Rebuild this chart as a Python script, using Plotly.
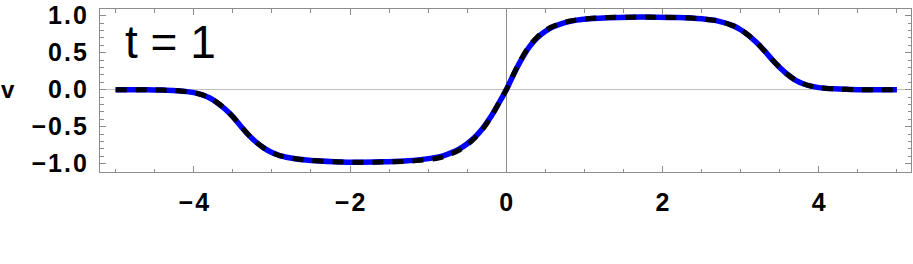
import plotly.graph_objects as go

# Data
x_vals = [-5.0, -4.6, -4.4, -4.2, -4.0, -3.9, -3.8, -3.7, -3.6, -3.5, -3.4, -3.3, -3.2, -3.1,
          -3.0, -2.9, -2.7, -2.5, -2.2, -1.9, -1.6, -1.3, -1.1, -0.9, -0.8, -0.7, -0.6, -0.5,
          -0.4, -0.3, -0.2, -0.1, 0.0, 0.1, 0.2, 0.3, 0.4, 0.5, 0.6, 0.7, 0.8, 0.9, 1.1, 1.3,
          1.6, 1.9, 2.2, 2.5, 2.7, 2.9, 3.0, 3.1, 3.2, 3.3, 3.4, 3.5, 3.6, 3.7, 3.8, 3.9, 4.0,
          4.2, 4.4, 4.6, 5.0]
v_blue = [0.0, 0.0, -0.005, -0.014, -0.04, -0.068, -0.11, -0.175, -0.26, -0.365, -0.49, -0.61,
          -0.71, -0.79, -0.85, -0.89, -0.933, -0.956, -0.972, -0.98, -0.975, -0.962, -0.945,
          -0.915, -0.89, -0.85, -0.80, -0.73, -0.64, -0.52, -0.37, -0.19, 0.0, 0.22, 0.42,
          0.585, 0.705, 0.79, 0.85, 0.89, 0.92, 0.94, 0.962, 0.973, 0.98, 0.98, 0.975, 0.957,
          0.93, 0.865, 0.81, 0.735, 0.64, 0.53, 0.41, 0.30, 0.205, 0.13, 0.08, 0.048, 0.028,
          0.011, 0.004, 0.0, 0.0]
v_black = [0.0, 0.0, -0.005, -0.014, -0.04, -0.068, -0.11, -0.175, -0.26, -0.365, -0.49, -0.61,
           -0.71, -0.79, -0.85, -0.89, -0.933, -0.956, -0.972, -0.98, -0.978, -0.968, -0.955,
           -0.93, -0.905, -0.865, -0.815, -0.745, -0.65, -0.53, -0.375, -0.19, 0.0, 0.225, 0.43,
           0.595, 0.715, 0.80, 0.857, 0.895, 0.925, 0.943, 0.964, 0.974, 0.98, 0.98, 0.975, 0.957,
           0.93, 0.865, 0.81, 0.735, 0.64, 0.53, 0.41, 0.30, 0.205, 0.13, 0.08, 0.048, 0.028,
           0.011, 0.004, 0.0, 0.0]
x_ticks = [-4, -2, 0, 2, 4]
x_tick_text = ["\u22124", "\u22122", "0", "2", "4"]
y_ticks = [-1.0, -0.5, 0.0, 0.5, 1.0]
y_tick_text = ["\u22121.0", "\u22120.5", "0.0", "0.5", "1.0"]
panel_label = "t = 1"
y_label = "v"

HAIR = "\u200a"


def spaced(s):
    return HAIR.join(list(s))


fig = go.Figure()
fig.add_trace(go.Scatter(x=x_vals, y=v_blue, mode="lines", line_shape="spline",
                         line=dict(color="#0000ff", width=5.5, smoothing=1.0), showlegend=False))
fig.add_trace(go.Scatter(x=x_vals, y=v_black, mode="lines", line_shape="spline",
                         line=dict(color="black", width=5, dash="11px,9px", smoothing=1.0),
                         showlegend=False))

tickfont = dict(family="Liberation Sans, Arial, sans-serif", size=25, color="black", weight="bold")
frame = "#8c8c8c"
fig.update_layout(
    width=913, height=264,
    margin=dict(l=100, r=2, t=9, b=92, autoexpand=False),
    paper_bgcolor="white", plot_bgcolor="white",
    xaxis=dict(range=[-5.2, 5.18], tickvals=x_ticks, ticktext=[spaced(t) for t in x_tick_text],
               ticks="inside", ticklen=6,
               tickcolor=frame, tickwidth=1, showline=True, linecolor=frame, linewidth=1,
               mirror="ticks", showgrid=False, zeroline=True, zerolinecolor="#909090",
               zerolinewidth=1, tickfont=tickfont, ticklabelstandoff=8,
               minor=dict(dtick=0.5, ticks="inside", ticklen=3.5, tickcolor=frame, showgrid=False)),
    yaxis=dict(range=[-1.112, 1.09], tickvals=y_ticks, ticktext=[spaced(t) for t in y_tick_text],
               ticks="inside", ticklen=6, tickcolor=frame, tickwidth=1, showline=True,
               linecolor=frame, linewidth=1, mirror="ticks", showgrid=False, zeroline=True,
               zerolinecolor="#c0c0c0", zerolinewidth=1, tickfont=tickfont, ticklabelstandoff=7,
               minor=dict(dtick=0.1, ticks="inside", ticklen=3.5, tickcolor=frame, showgrid=False)),
    annotations=[
        dict(text=panel_label, xref="paper", yref="paper", x=(123 - 100) / 811, y=(172 - 42) / 163,
             xanchor="left", yanchor="middle", showarrow=False,
             font=dict(family="Liberation Sans, Arial, sans-serif", size=46, color="black")),
        dict(text=y_label, xref="paper", yref="y", x=(7.5 - 100) / 811, y=0,
             xanchor="center", yanchor="middle", showarrow=False,
             font=dict(family="Liberation Sans, Arial, sans-serif", size=24, color="black",
                       weight="bold")),
    ],
)
fig.write_html("out.html", config={"displayModeBar": False},
               post_script="document.body.style.margin='0';")
